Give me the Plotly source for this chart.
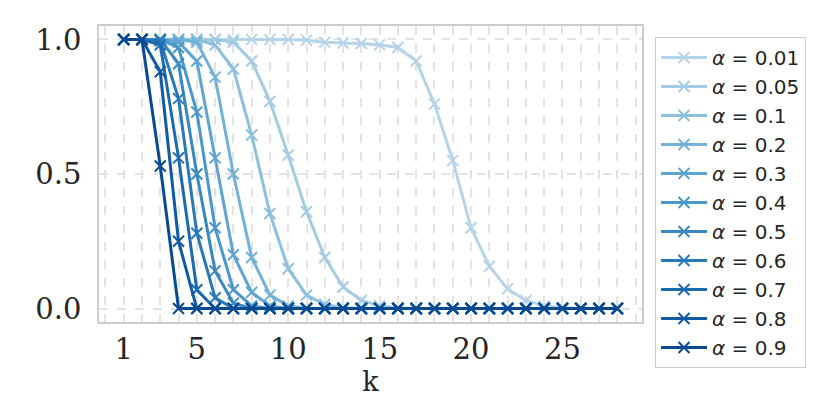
import plotly.graph_objects as go
from plotly.colors import sample_colorscale

k_values = list(range(1, 29))
alphas = ['0.01', '0.05', '0.1', '0.2', '0.3', '0.4', '0.5', '0.6', '0.7', '0.8', '0.9']

p_001 = [1, 1, 1, 1, 1, 1, 1, 1, 1, 1.0, 0.997, 0.99, 0.987, 0.985, 0.98, 0.97, 0.92,
         0.76, 0.55, 0.30, 0.157, 0.073, 0.03, 0.01, 0.003, 0, 0, 0]
p_005 = [1, 1, 1, 1, 1, 1, 0.99, 0.92, 0.77, 0.57, 0.36, 0.19, 0.08, 0.03, 0.01, 0.003,
         0, 0, 0, 0, 0, 0, 0, 0, 0, 0, 0, 0]
p_01 = [1, 1, 1, 1, 1, 0.98, 0.89, 0.645, 0.353, 0.148, 0.05, 0.015, 0.003, 0, 0, 0,
        0, 0, 0, 0, 0, 0, 0, 0, 0, 0, 0, 0]
p_02 = [1, 1, 1, 1, 0.99, 0.86, 0.50, 0.19, 0.05, 0.01, 0, 0, 0, 0, 0, 0,
        0, 0, 0, 0, 0, 0, 0, 0, 0, 0, 0, 0]
p_03 = [1, 1, 1, 0.99, 0.92, 0.56, 0.20, 0.06, 0.01, 0, 0, 0, 0, 0, 0, 0,
        0, 0, 0, 0, 0, 0, 0, 0, 0, 0, 0, 0]
p_04 = [1, 1, 1, 0.97, 0.73, 0.30, 0.07, 0.01, 0, 0, 0, 0, 0, 0, 0, 0,
        0, 0, 0, 0, 0, 0, 0, 0, 0, 0, 0, 0]
p_05 = [1, 1, 1, 0.91, 0.50, 0.14, 0.02, 0, 0, 0, 0, 0, 0, 0, 0, 0,
        0, 0, 0, 0, 0, 0, 0, 0, 0, 0, 0, 0]
p_06 = [1, 1, 0.995, 0.78, 0.28, 0.04, 0, 0, 0, 0, 0, 0, 0, 0, 0, 0,
        0, 0, 0, 0, 0, 0, 0, 0, 0, 0, 0, 0]
p_07 = [1, 1, 0.98, 0.56, 0.07, 0, 0, 0, 0, 0, 0, 0, 0, 0, 0, 0,
        0, 0, 0, 0, 0, 0, 0, 0, 0, 0, 0, 0]
p_08 = [1, 1, 0.88, 0.25, 0, 0, 0, 0, 0, 0, 0, 0, 0, 0, 0, 0,
        0, 0, 0, 0, 0, 0, 0, 0, 0, 0, 0, 0]
p_09 = [1, 1, 0.53, 0, 0, 0, 0, 0, 0, 0, 0, 0, 0, 0, 0, 0,
        0, 0, 0, 0, 0, 0, 0, 0, 0, 0, 0, 0]

series = [p_001, p_005, p_01, p_02, p_03, p_04, p_05, p_06, p_07, p_08, p_09]
colors = sample_colorscale('Blues', [0.3 + 0.06 * i for i in range(len(alphas))])

fig = go.Figure()
for a, ys, c in zip(alphas, series, colors):
    fig.add_trace(go.Scatter(
        x=k_values, y=ys, mode='lines+markers', name=f'<i>α</i> = {a}',
        line=dict(color=c, width=3),
        marker=dict(symbol='x-thin', size=11, line=dict(width=2, color=c)),
    ))

grid = '#e3e3e3'
# the page body has an 8px margin, so margins are shifted to compensate
fig.update_layout(
    width=830, height=415,
    margin=dict(l=91, r=196, t=18, b=101),
    plot_bgcolor='white', paper_bgcolor='white',
    font=dict(family='DejaVu Serif', size=29, color='#262626'),
    xaxis=dict(
        range=[-0.35, 29.35], tickvals=[1, 5, 10, 15, 20, 25],
        showgrid=True, gridcolor=grid, griddash='dash', gridwidth=2,
        minor=dict(tick0=0, dtick=1, showgrid=True, gridcolor=grid,
                   griddash='dash', gridwidth=2),
        showline=True, mirror=True, linecolor='#cccccc', linewidth=1.5,
        zeroline=False, ticks='', ticklabelstandoff=0, automargin=False,
        title=dict(text='k', standoff=2, font=dict(size=27)),
    ),
    yaxis=dict(
        range=[-0.05, 1.05], tickvals=[0, 0.5, 1.0], ticktext=['0.0', '0.5', '1.0'],
        showgrid=True, gridcolor=grid, griddash='dash', gridwidth=2,
        showline=True, mirror=True, linecolor='#cccccc', linewidth=1.5,
        zeroline=False, ticks='', ticklabelstandoff=10, automargin=False,
    ),
    legend=dict(
        x=1.024, y=0.963, xanchor='left', yanchor='top',
        font=dict(family='DejaVu Sans', size=20, color='#262626'),
        bordercolor='#cccccc', borderwidth=1, bgcolor='white', itemwidth=46,
        maxheight=380,
    ),
)

fig.write_html("out.html")
